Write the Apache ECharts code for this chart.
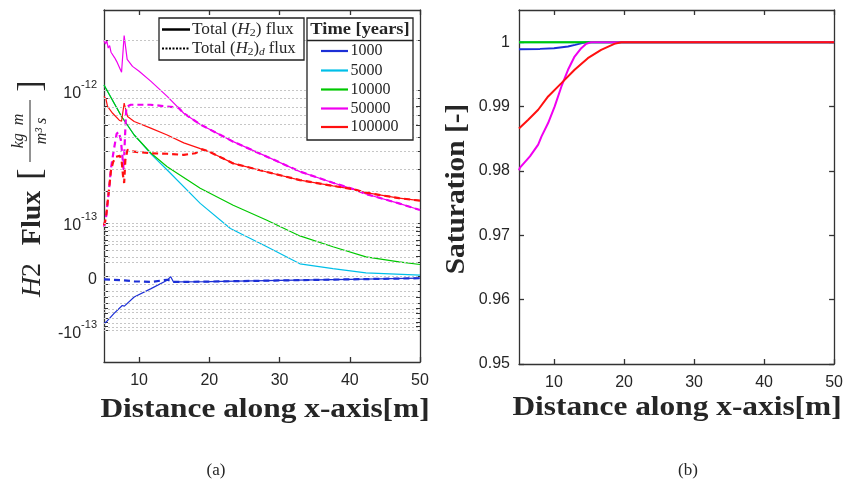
<!DOCTYPE html>
<html><head><meta charset="utf-8">
<script src="https://cdn.jsdelivr.net/npm/echarts@6/dist/echarts.min.js"></script>
<style>html,body{margin:0;padding:0;background:#fff}#c{width:846px;height:490px}</style>
</head><body><div id="c"></div>
<script>
// ---------- axis ticks ----------
const xTickValues = [10, 20, 30, 40, 50];
const fluxTickValues = [-1e-13, 0, 1e-13, 1e-12];
const fluxTickBase = ['-10', '0', '10', '10'];
const fluxTickExp = ['-13', '', '-13', '-12'];
const fluxGridValues = [
  -1e-13, -9e-14, -8e-14, -7e-14, -6e-14, -5e-14, -4e-14, -3e-14, -2e-14, -1e-14, 0,
  2e-14, 3e-14, 4e-14, 5e-14, 6e-14, 7e-14, 8e-14, 9e-14,
  1e-13, 2e-13, 3e-13, 4e-13, 5e-13, 6e-13, 7e-13, 8e-13, 9e-13, 1e-12, 2e-12
];
const fluxMin = -2e-13, fluxMax = 3e-12;
const satTickValues = [0.95, 0.96, 0.97, 0.98, 0.99, 1];
const satTickLabels = ['0.95', '0.96', '0.97', '0.98', '0.99', '1'];
const timeLabels = ['1000', '5000', '10000', '50000', '100000'];

// ---------- (a) H2 flux, total ----------
const flux1000X = [5.0, 5.3, 6.4, 7.6, 7.9, 9.3, 11.7, 14.0, 14.5, 14.9, 20, 30, 40, 50];
const flux1000Y = [-8.2e-14, -7.95e-14, -6.1e-14, -4.5e-14, -4.6e-14, -3.0e-14, -1.66e-14, -4.7e-15, 0, -7e-15, -6.5e-15, -5e-15, -3.5e-15, -2e-15];
const flux5000X = [5.0, 7.5, 9.3, 10.5, 11.7, 14.0, 18.7, 23.0, 28.2, 32.9, 37.6, 42.3, 50];
const flux5000Y = [1.08e-12, 6.87e-13, 5.2e-13, 4.5e-13, 3.85e-13, 2.95e-13, 1.57e-13, 8.6e-14, 4.7e-14, 1.8e-14, 1.1e-14, 5e-15, 2e-15];
const flux10000X = [5.0, 7.5, 9.3, 11.7, 14.0, 16.9, 18.7, 23.4, 28.2, 32.9, 37.6, 42.3, 47.0, 50];
const flux10000Y = [1.08e-12, 6.87e-13, 5.2e-13, 3.9e-13, 3.12e-13, 2.47e-13, 2.12e-13, 1.51e-13, 1.07e-13, 6.9e-14, 4.7e-14, 2.9e-14, 2.1e-14, 1.7e-14];
const flux50000X = [5.0, 5.2, 5.4, 5.6, 5.8, 6.0, 6.2, 6.5, 6.8, 7.2, 7.5, 7.87, 8.3, 9.06, 10.0, 11.65, 14.0, 16.36, 18.72, 23.4, 28.2, 32.9, 37.6, 40.6, 42.3, 47.0, 50];
const flux50000Y = [2.0e-12, 1.9e-12, 1.98e-12, 1.8e-12, 1.86e-12, 1.7e-12, 1.73e-12, 1.58e-12, 1.5e-12, 1.38e-12, 1.29e-12, 2.13e-12, 1.54e-12, 1.4e-12, 1.31e-12, 1.14e-12, 9.2e-13, 7.2e-13, 6.1e-13, 4.69e-13, 3.69e-13, 2.87e-13, 2.35e-13, 2.08e-13, 1.9e-13, 1.57e-13, 1.36e-13];
const flux100000X = [5.0, 5.28, 5.5, 6.23, 7.17, 7.5, 7.87, 8.35, 9.3, 11.65, 14.0, 16.36, 18.72, 20.0, 23.4, 28.2, 32.9, 37.6, 40.6, 42.3, 47.0, 50];
const flux100000Y = [9.2e-13, 8.85e-13, 7.95e-13, 7.2e-13, 6.5e-13, 6.4e-13, 8.35e-13, 6.87e-13, 6.37e-13, 5.77e-13, 5.2e-13, 4.6e-13, 4.2e-13, 4.0e-13, 3.3e-13, 2.85e-13, 2.47e-13, 2.22e-13, 2.08e-13, 1.95e-13, 1.75e-13, 1.66e-13];

// ---------- (a) H2 flux, dissolved (dashed) ----------
const fluxD1000X = [5.0, 7.5, 9.3, 11.7, 14.0, 14.9, 20, 30, 40, 50];
const fluxD1000Y = [-3.5e-15, -4.7e-15, -6.1e-15, -7e-15, -4e-15, -7e-15, -6.5e-15, -5e-15, -3.5e-15, -2e-15];
const fluxD50000X = [5.0, 5.28, 5.75, 6.0, 6.4, 6.8, 7.1, 7.4, 7.6, 7.8, 7.97, 8.18, 8.8, 11.65, 14.0, 15.6, 16.36, 18.72, 23.4, 28.2, 32.9, 37.6, 40.6, 42.3, 47.0, 50];
const fluxD50000Y = [9e-14, 1.13e-13, 2.17e-13, 3.05e-13, 4.12e-13, 5.3e-13, 5.45e-13, 4.82e-13, 3.8e-13, 2.95e-13, 4.82e-13, 7.9e-13, 8.15e-13, 8.15e-13, 7.95e-13, 7.8e-13, 7.2e-13, 6.1e-13, 4.69e-13, 3.69e-13, 2.87e-13, 2.35e-13, 2.08e-13, 1.9e-13, 1.57e-13, 1.36e-13];
const fluxD100000X = [5.0, 5.28, 5.5, 5.75, 6.0, 6.3, 6.7, 7.26, 7.5, 7.7, 7.87, 8.04, 8.35, 9.3, 11.65, 14.0, 16.36, 18.0, 19.0, 20.0, 23.4, 28.2, 32.9, 37.6, 40.6, 42.3, 47.0, 50];
const fluxD100000Y = [9.4e-14, 1.13e-13, 1.58e-13, 2.17e-13, 2.95e-13, 3.38e-13, 3.68e-13, 3.74e-13, 3.5e-13, 2.7e-13, 2.34e-13, 3.5e-13, 4.12e-13, 4.0e-13, 3.9e-13, 3.87e-13, 3.8e-13, 3.9e-13, 4.15e-13, 4.0e-13, 3.3e-13, 2.85e-13, 2.47e-13, 2.22e-13, 2.08e-13, 1.95e-13, 1.75e-13, 1.66e-13];

// ---------- (b) saturation ----------
const sat1000X = [5, 8, 10, 12, 13, 14, 14.6, 50];
const sat1000Y = [0.9989, 0.99896, 0.99907, 0.99932, 0.99958, 0.99985, 1.0, 1.0];
const sat5000X = [5, 50];
const sat5000Y = [1.0, 1.0];
const sat10000X = [5, 50];
const sat10000Y = [1.0, 1.0];
const sat50000X = [5.0, 5.14, 6.56, 7.74, 8.22, 9.16, 10.1, 11.06, 12.0, 12.94, 13.89, 14.6, 15.3, 50];
const sat50000Y = [0.9801, 0.9805, 0.98226, 0.98408, 0.98537, 0.98744, 0.99002, 0.99312, 0.99571, 0.99777, 0.99907, 0.99975, 1.0, 1.0];
const sat100000X = [5.0, 6.32, 7.74, 9.16, 11.06, 12.94, 14.83, 16.73, 18.62, 19.6, 50];
const sat100000Y = [0.9866, 0.98795, 0.9895, 0.99157, 0.99364, 0.99571, 0.99752, 0.99881, 0.99974, 1.0, 1.0];

// ---------- build ----------
const colors = ['#1c2fd6', '#00bfe8', '#00c800', '#f000f0', '#ff1010'];
const LIN = 1e-13;
const tf = v => { const u = v / LIN; return Math.sign(u) * Math.log10(1 + Math.abs(u)); };
const pairs = (xs, ys, f) => xs.map((x, i) => [x, f ? f(ys[i]) : ys[i]]);
const AX = '#333';
const TXT = '#262626';
const SERIF = 'Liberation Serif';

function xAx(grid, pos, labels) {
  return {
    type: 'value', gridIndex: grid, position: pos, min: 5, max: 50,
    axisLine: { show: true, onZero: false, lineStyle: { color: AX, width: 1.3 } },
    axisTick: { show: true, inside: true, length: 5, customValues: xTickValues, lineStyle: { color: AX, width: 1.3 } },
    axisLabel: { show: labels, customValues: xTickValues, margin: 11, fontSize: 16, color: TXT, fontFamily: 'Liberation Sans' },
    splitLine: { show: false }
  };
}
const fluxTickT = fluxTickValues.map(tf);
const fluxGridT = fluxGridValues.map(tf);
function fluxY(pos, labels) {
  return {
    type: 'value', gridIndex: 0, position: pos, min: tf(fluxMin), max: tf(fluxMax),
    axisLine: { show: true, onZero: false, lineStyle: { color: AX, width: 1.3 } },
    axisTick: { show: true, inside: true, length: 4, customValues: fluxGridT, lineStyle: { color: AX, width: 1 } },
    axisLabel: {
      show: labels, customValues: fluxTickT, margin: 7,
      formatter: v => {
        let i = fluxTickT.findIndex(t => Math.abs(t - v) < 1e-6);
        if (i < 0) return '';
        return '{b|' + fluxTickBase[i] + '}' + (fluxTickExp[i] ? '{s|' + fluxTickExp[i] + '}' : '');
      },
      rich: {
        b: { fontSize: 16, color: TXT, fontFamily: 'Liberation Sans', lineHeight: 22, verticalAlign: 'bottom' },
        s: { fontSize: 11, color: TXT, fontFamily: 'Liberation Sans', lineHeight: 22, verticalAlign: 'top' }
      }
    },
    splitLine: { show: false }
  };
}
function satY(pos, labels) {
  return {
    type: 'value', gridIndex: 1, position: pos, min: 0.95, max: 1.005,
    axisLine: { show: true, onZero: false, lineStyle: { color: AX, width: 1.3 } },
    axisTick: { show: true, inside: true, length: 5, customValues: satTickValues, lineStyle: { color: AX, width: 1.3 } },
    axisLabel: {
      show: labels, customValues: satTickValues, margin: 9, fontSize: 16, color: TXT, fontFamily: 'Liberation Sans',
      formatter: v => { const i = satTickValues.findIndex(t => Math.abs(t - v) < 1e-9); return i < 0 ? '' : satTickLabels[i]; }
    },
    splitLine: { show: false }
  };
}

const series = [];
// gridlines of panel (a)
series.push({
  type: 'line', xAxisIndex: 0, yAxisIndex: 0, data: [], silent: true, z: 1,
  markLine: {
    silent: true, symbol: 'none', animation: false, label: { show: false },
    lineStyle: { type: [2, 2], color: '#c6c6c6', width: 1 },
    data: fluxGridT.map(v => ({ yAxis: v }))
  }
});
const fluxSolid = [[flux1000X, flux1000Y], [flux5000X, flux5000Y], [flux10000X, flux10000Y], [flux50000X, flux50000Y], [flux100000X, flux100000Y]];
const fluxDashed = [[fluxD1000X, fluxD1000Y, 0], [fluxD50000X, fluxD50000Y, 3], [fluxD100000X, fluxD100000Y, 4]];
fluxSolid.forEach((s, i) => series.push({
  type: 'line', name: timeLabels[i], xAxisIndex: 0, yAxisIndex: 0, symbol: 'none', z: 3,
  data: pairs(s[0], s[1], tf), lineStyle: { color: colors[i], width: 1.2 }
}));
fluxDashed.forEach(s => series.push({
  type: 'line', name: timeLabels[s[2]] + ' d', xAxisIndex: 0, yAxisIndex: 0, symbol: 'none', z: 3,
  data: pairs(s[0], s[1], tf), lineStyle: { color: colors[s[2]], width: 2.2, type: [6, 4] }
}));
const sats = [[sat1000X, sat1000Y], [sat5000X, sat5000Y], [sat10000X, sat10000Y], [sat50000X, sat50000Y], [sat100000X, sat100000Y]];
sats.forEach((s, i) => series.push({
  type: 'line', name: 'S ' + timeLabels[i], xAxisIndex: 2, yAxisIndex: 2, symbol: 'none', z: 3,
  data: pairs(s[0], s[1]), lineStyle: { color: colors[i], width: 2 }
}));

// legend / labels as graphics
const G = [];
const txt = (x, y, text, font, extra, sx) => ({
  type: 'text', x, y, z: 100, scaleX: sx || 1,
  style: Object.assign({ text, font, fill: TXT, align: 'center', verticalAlign: 'middle' }, extra || {})
});
const rot = (el) => { el.rotation = Math.PI / 2; return el; };
// axis titles
G.push(txt(265, 410, 'Distance along x-axis[m]', 'bold 28px "' + SERIF + '"', null, 1.12));
G.push(txt(677, 408, 'Distance along x-axis[m]', 'bold 28px "' + SERIF + '"', null, 1.12));
G.push(rot(txt(457, 189, 'Saturation [-]', 'bold 28px "' + SERIF + '"', null, 1.05)));
G.push(rot(txt(33, 280, '{i|H}{n|2}', '28px "' + SERIF + '"', { rich: { i: { font: 'italic 28px "' + SERIF + '"', fill: TXT }, n: { font: '28px "' + SERIF + '"', fill: TXT } } })));
G.push(rot(txt(33, 218, 'Flux', 'bold 28px "' + SERIF + '"')));
G.push(rot(txt(31, 174, '[', '34px "' + SERIF + '"')));
G.push(rot(txt(31, 86, ']', '34px "' + SERIF + '"')));
G.push(rot(txt(19, 131, 'kg  m', 'italic 16px "' + SERIF + '"')));
G.push(rot(txt(42, 131, 'm³ s', 'italic 16px "' + SERIF + '"')));
G.push({ type: 'line', z: 100, shape: { x1: 30, y1: 100, x2: 30, y2: 162 }, style: { stroke: TXT, lineWidth: 1 } });
// captions
G.push(txt(216, 471, '(a)', '17px "' + SERIF + '"'));
G.push(txt(688, 471, '(b)', '17px "' + SERIF + '"'));
// legend 1
G.push({ type: 'rect', z: 90, shape: { x: 159, y: 18, width: 145, height: 42 }, style: { fill: '#fff', stroke: '#222', lineWidth: 1.3 } });
G.push({ type: 'line', z: 100, shape: { x1: 162, y1: 29.5, x2: 190, y2: 29.5 }, style: { stroke: '#000', lineWidth: 2.5 } });
G.push({ type: 'line', z: 100, shape: { x1: 162, y1: 48.5, x2: 190, y2: 48.5 }, style: { stroke: '#000', lineWidth: 2.2, lineDash: [2, 1.5] } });
const legRich = {
  t: { font: '16px "' + SERIF + '"', fill: TXT, lineHeight: 19 },
  i: { font: 'italic 16px "' + SERIF + '"', fill: TXT, lineHeight: 19 },
  sub: { font: '11px "' + SERIF + '"', fill: TXT, lineHeight: 12, verticalAlign: 'bottom' },
  subi: { font: 'italic 11px "' + SERIF + '"', fill: TXT, lineHeight: 12, verticalAlign: 'bottom' }
};
G.push(txt(192, 29.5, '{t|Total (}{i|H}{sub|2}{t|) flux}', '16px "' + SERIF + '"', { align: 'left', rich: legRich }, 1.08));
G.push(txt(192, 48.5, '{t|Total (}{i|H}{sub|2}{t|)}{subi|d}{t| flux}', '16px "' + SERIF + '"', { align: 'left', rich: legRich }, 1.04));
// legend 2
G.push({ type: 'rect', z: 90, shape: { x: 307, y: 18, width: 106, height: 122 }, style: { fill: '#fff', stroke: '#222', lineWidth: 1.3 } });
G.push({ type: 'line', z: 100, shape: { x1: 307, y1: 40.5, x2: 413, y2: 40.5 }, style: { stroke: '#222', lineWidth: 1.3 } });
G.push(txt(360, 29.5, 'Time [years]', 'bold 16px "' + SERIF + '"', null, 1.15));
const legY = [51, 70.5, 89.5, 108.5, 127];
timeLabels.forEach((t, i) => {
  G.push({ type: 'line', z: 100, shape: { x1: 321, y1: legY[i], x2: 348, y2: legY[i] }, style: { stroke: colors[i], lineWidth: 2.2 } });
  G.push(txt(350.5, legY[i], t, '16px "' + SERIF + '"', { align: 'left' }));
});

const option = {
  animation: false,
  backgroundColor: '#fff',
  grid: [
    { left: 104, top: 10, width: 316, height: 352 },
    { left: 519, top: 10, width: 317, height: 354 }
  ],
  xAxis: [xAx(0, 'bottom', true), xAx(0, 'top', false), xAx(1, 'bottom', true), xAx(1, 'top', false)],
  yAxis: [fluxY('left', true), fluxY('right', false), satY('left', true), satY('right', false)],
  series,
  graphic: G
};
const chart = echarts.init(document.getElementById('c'), null, { renderer: 'canvas' });
chart.setOption(option);
</script></body></html>
